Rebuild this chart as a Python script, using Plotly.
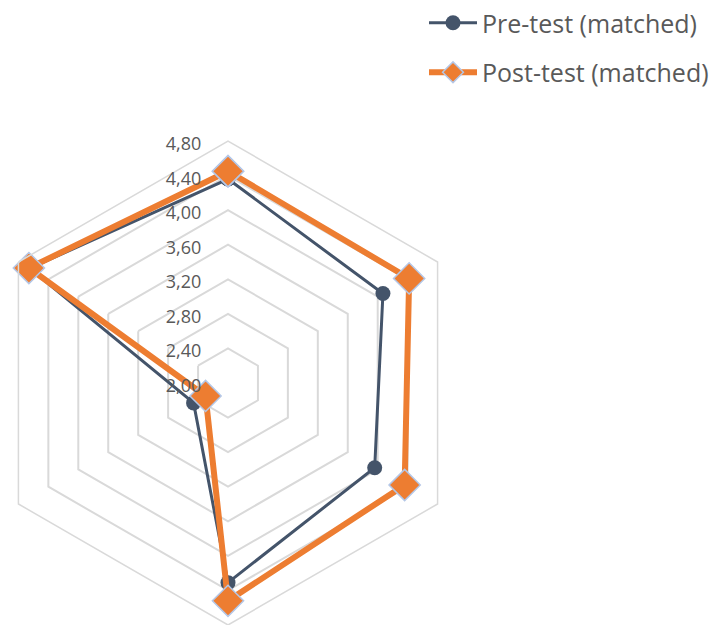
import plotly.graph_objects as go

categories = ["Dimension 1", "Dimension 2", "Dimension 3", "Dimension 4", "Dimension 5", "Dimension 6"]
pre_values = [4.36, 4.07, 3.96, 4.31, 2.46, 4.65]
post_values = [4.45, 4.42, 4.36, 4.52, 2.30, 4.66]
radial_ticks = [2.0, 2.4, 2.8, 3.2, 3.6, 4.0, 4.4, 4.8]
radial_tick_labels = ["2,00", "2,40", "2,80", "3,20", "3,60", "4,00", "4,40", "4,80"]
series_names = ["Pre-test (matched)", "Post-test (matched)"]

SHIFT = 14
W, H = 720 + SHIFT, 625

fig = go.Figure()
fig.add_trace(go.Scatterpolar(
    r=pre_values + pre_values[:1],
    theta=categories + categories[:1],
    mode="lines+markers",
    name=series_names[0],
    legendgroup="pre",
    line=dict(color="#44546A", width=3),
    marker=dict(symbol="circle", size=15, color="#44546A"),
))
fig.add_trace(go.Scatterpolar(
    r=post_values + post_values[:1],
    theta=categories + categories[:1],
    mode="lines+markers",
    name=series_names[1],
    legendgroup="post",
    line=dict(color="#ED7D31", width=6),
    marker=dict(symbol="diamond", size=24, color="#ED7D31",
                line=dict(color="#B4C7E7", width=1.5)),
))

fig.update_layout(
    width=W, height=H,
    margin=dict(l=0, r=0, t=0, b=0),
    paper_bgcolor="white",
    separators=",.",
    font=dict(family="Open Sans", color="#595959"),
    polar=dict(
        domain=dict(x=[0, 484 / W], y=[0, 484 / H]),
        bgcolor="white",
        gridshape="linear",
        radialaxis=dict(
            range=[2.0, 4.8],
            tickvals=radial_ticks,
            ticktext=radial_tick_labels,
            angle=90,
            side="counterclockwise",
            showline=False,
            gridcolor="#D9D9D9",
            gridwidth=1.5,
            ticks="outside",
            ticklen=10,
            tickcolor="rgba(0,0,0,0)",
            tickfont=dict(size=18, color="#595959"),
        ),
        angularaxis=dict(
            rotation=90,
            direction="clockwise",
            showgrid=False,
            showticklabels=False,
            ticks="",
            showline=True,
            linecolor="#D9D9D9",
            linewidth=1.5,
        ),
    ),
    legend=dict(
        x=(424 + SHIFT) / W, y=1, xanchor="left", yanchor="top",
        font=dict(size=25, color="#595959"),
        tracegroupgap=14,
        bgcolor="rgba(0,0,0,0)",
        itemwidth=48,
    ),
    showlegend=True,
)

post = ("var gd=document.getElementById('{plot_id}');"
        "document.body.style.margin='0';document.body.style.overflow='hidden';"
        "gd.style.marginLeft='-%dpx';" % SHIFT)
fig.write_html("out.html", post_script=post, config={"displayModeBar": False})
